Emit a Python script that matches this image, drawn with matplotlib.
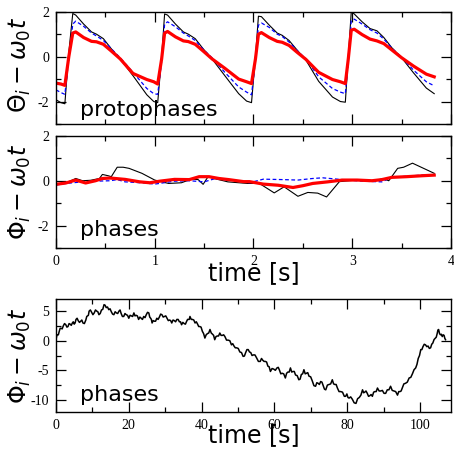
"""
Protophases vs phases: three panels (short window of protophases, phases,
and long-time phase drift).
Saved as: out.png
"""
import numpy as np
import matplotlib
matplotlib.use("Agg")
import matplotlib.pyplot as plt
from matplotlib.ticker import MultipleLocator

plt.rcParams["mathtext.fontset"] = "dejavusans"
plt.rcParams["axes.unicode_minus"] = False

TICK_FONT = "Liberation Serif"
LABEL_FS = 17
XLABEL_FS = 17
TEXT_FS = 16

# ── Panel 1: protophases minus w0*t ─────────────────────────────────────────
t_proto = [0.00, 0.05, 0.09, 0.13, 0.17, 0.20, 0.28, 0.36, 0.41, 0.48, 0.56, 0.65, 0.78, 0.92, 0.99, 1.03,
           1.07, 1.10, 1.13, 1.21, 1.29, 1.34, 1.41, 1.49, 1.58, 1.71, 1.85, 1.93, 1.98,
           2.02, 2.05, 2.08, 2.16, 2.24, 2.29, 2.36, 2.44, 2.53, 2.66, 2.80, 2.88, 2.93,
           2.96, 2.99, 3.02, 3.10, 3.18, 3.25, 3.32, 3.40, 3.50, 3.62, 3.75, 3.83]
proto_black = [-1.92, -2.05, -2.10, 0.20, 1.92, 1.85, 1.45, 1.10, 1.00, 0.80, 0.35, -0.10, -0.85, -1.70, -2.00, -2.05,
               0.00, 1.90, 1.85, 1.45, 1.10, 1.00, 0.80, 0.35, -0.10, -0.85, -1.65, -1.98, -2.05,
               0.00, 1.80, 1.78, 1.40, 1.05, 0.95, 0.72, 0.30, -0.15, -1.10, -1.80, -2.00, -2.03,
               0.00, 2.00, 1.90, 1.55, 1.25, 1.15, 0.85, 0.40, -0.05, -0.72, -1.40, -1.65]
proto_blue = [-1.48, -1.60, -1.68, -0.10, 1.45, 1.58, 1.35, 1.05, 0.92, 0.72, 0.35, -0.05, -0.70, -1.42, -1.65, -1.68,
              -0.20, 1.45, 1.55, 1.33, 1.05, 0.92, 0.72, 0.33, -0.05, -0.70, -1.35, -1.58, -1.70,
              -0.20, 1.40, 1.50, 1.30, 1.00, 0.90, 0.65, 0.28, -0.10, -0.90, -1.42, -1.58, -1.65,
              -0.20, 1.60, 1.67, 1.45, 1.20, 1.05, 0.78, 0.38, -0.03, -0.60, -1.12, -1.30]
proto_red = [-1.18, -1.22, -1.28, 0.00, 1.05, 1.10, 0.85, 0.68, 0.66, 0.55, 0.25, -0.10, -0.75, -1.02, -1.12, -1.22,
             -0.10, 1.05, 1.12, 0.88, 0.70, 0.67, 0.55, 0.25, -0.10, -0.52, -1.00, -1.12, -1.20,
             -0.10, 1.00, 1.07, 0.85, 0.68, 0.64, 0.50, 0.20, -0.12, -0.70, -1.02, -1.12, -1.20,
             -0.10, 1.18, 1.22, 0.98, 0.78, 0.70, 0.58, 0.30, -0.05, -0.42, -0.78, -0.90]

# ── Panel 2: phases minus w0*t (same window) ────────────────────────────────
t_ph_black = [0.00, 0.10, 0.20, 0.27, 0.35, 0.44, 0.47, 0.53, 0.56, 0.62, 0.68, 0.74, 0.87, 1.00, 1.14, 1.27,
              1.37, 1.44, 1.49, 1.54, 1.60, 1.74, 1.94, 2.06, 2.21, 2.31, 2.45, 2.55, 2.65, 2.74, 2.87,
              3.04, 3.24, 3.31, 3.37, 3.46, 3.52, 3.61, 3.83]
ph_black = [-0.16, -0.10, 0.10, 0.00, 0.02, 0.10, 0.28, 0.22, 0.18, 0.60, 0.60, 0.55, 0.33, 0.03, -0.12, -0.09,
            0.07, 0.05, -0.16, 0.18, 0.10, -0.05, -0.12, -0.12, -0.54, -0.27, -0.69, -0.52, -0.55, -0.72, -0.04,
            0.03, 0.00, 0.10, 0.00, 0.55, 0.60, 0.78, 0.33]
t_ph_blue = [0.00, 0.10, 0.27, 0.40, 0.55, 0.62, 0.70, 0.90, 1.00, 1.20, 1.35, 1.50, 1.60, 1.80, 1.96,
             2.10, 2.30, 2.45, 2.60, 2.70, 2.90, 3.10, 3.30, 3.40, 3.55, 3.70, 3.83]
ph_blue = [-0.19, -0.12, -0.05, -0.02, 0.00, 0.05, -0.05, -0.10, -0.15, -0.02, 0.00, -0.05, 0.08, 0.02, -0.09,
           0.07, 0.05, 0.03, 0.10, 0.13, 0.05, -0.02, -0.05, 0.15, 0.20, 0.25, 0.28]
t_ph_red = [0.00, 0.10, 0.20, 0.30, 0.40, 0.47, 0.55, 0.70, 0.85, 0.95, 1.05, 1.20, 1.35, 1.45, 1.55, 1.65,
            1.75, 1.90, 1.96, 2.10, 2.25, 2.40, 2.50, 2.60, 2.75, 2.90, 3.05, 3.20, 3.30, 3.40, 3.55, 3.70, 3.83]
ph_red = [-0.16, -0.10, 0.03, -0.10, 0.00, 0.10, 0.12, 0.06, -0.05, -0.09, -0.02, 0.06, 0.05, 0.18, 0.18, 0.10,
          0.05, -0.04, -0.04, -0.15, -0.20, -0.30, -0.22, -0.12, -0.05, 0.03, 0.03, 0.00, 0.05, 0.15, 0.18, 0.22, 0.25]

# ── Panel 3: long recording of the phase drift ──────────────────────────────
t_long = [0, 0.2, 0.4, 0.65, 0.9, 1.15, 1.4, 1.7, 2.0, 2.35, 2.7, 3.0, 3.3, 3.6, 3.9, 4.2, 4.5, 4.75,
          5.0, 5.25, 5.5, 5.8, 6.1, 6.45, 6.8, 7.1, 7.4, 7.8, 8.2, 8.45, 8.7, 8.9, 9.1, 9.45, 9.8, 10.15,
          10.5, 10.85, 11.2, 11.5, 11.8, 12.15, 12.5, 12.85, 13.2, 13.5, 13.8, 14.15, 14.5, 14.85, 15.2, 15.55,
          15.9, 16.25, 16.6, 16.95, 17.3, 17.6, 17.9, 18.25, 18.6, 18.95, 19.3, 19.65, 20.0, 20.35, 20.7, 21.05,
          21.4, 21.7, 22.0, 22.35, 22.7, 23.05, 23.4, 23.75, 24.1, 24.45, 24.8, 25.15, 25.5, 25.75, 26.0, 26.2,
          26.4, 26.7, 27.0, 27.35, 27.7, 28.05, 28.4, 28.75, 29.1, 29.45, 29.8, 30.15, 30.5, 30.85, 31.2, 31.5,
          31.8, 32.15, 32.5, 32.85, 33.2, 33.55, 33.9, 34.2, 34.5, 34.85, 35.2, 35.55, 35.9, 36.15, 36.4, 36.6,
          36.8, 37.15, 37.5, 37.85, 38.2, 38.55, 38.9, 39.2, 39.5, 39.85, 40.2, 40.55, 40.9, 41.25, 41.6, 41.95,
          42.3, 42.65, 43.0, 43.3, 43.6, 43.95, 44.3, 44.65, 45.0, 45.35, 45.7, 46.05, 46.4, 46.85, 47.3, 47.75,
          48.2, 48.55, 48.9, 49.25, 49.6, 50.05, 50.5, 50.95, 51.4, 51.75, 52.1, 52.45, 52.8, 53.15, 53.5, 53.85,
          54.2, 54.65, 55.1, 55.6, 56.1, 56.45, 56.8, 57.15, 57.5, 57.85, 58.2, 58.55, 58.9, 59.35, 59.8, 60.25,
          60.7, 61.05, 61.4, 61.75, 62.1, 62.55, 63.0, 63.35, 63.7, 64.05, 64.4, 64.75, 65.1, 65.45, 65.8, 66.25,
          66.7, 67.05, 67.4, 67.75, 68.1, 68.45, 68.8, 69.15, 69.5, 69.95, 70.4, 70.85, 71.3, 71.65, 72.0, 72.35,
          72.7, 73.05, 73.4, 73.75, 74.1, 74.55, 75.0, 75.45, 75.9, 76.25, 76.6, 76.95, 77.3, 77.75, 78.2, 78.7,
          79.2, 79.55, 79.9, 80.2, 80.5, 80.95, 81.4, 81.9, 82.4, 82.85, 83.3, 83.75, 84.2, 84.5, 84.8, 85.15,
          85.5, 85.85, 86.2, 86.55, 86.9, 87.25, 87.6, 87.95, 88.3, 88.75, 89.2, 89.65, 90.1, 90.55, 91.0, 91.45,
          91.9, 92.35, 92.8, 93.3, 93.8, 94.15, 94.5, 94.8, 95.1, 95.55, 96.0, 96.5, 97.0, 97.45, 97.9, 98.35,
          98.8, 99.15, 99.5, 99.85, 100.2, 100.5, 100.8, 101.15, 101.5, 101.85, 102.2, 102.55, 102.9, 103.2,
          103.5, 103.85, 104.2, 104.45, 104.7, 104.9, 105.1, 105.35, 105.6, 105.85, 106.1, 106.35, 106.6, 106.8,
          107.0]
phase_long = [0.17, 0.8, 1.0, 1.0, 1.6, 2.1, 2.1, 2.0, 2.5, 2.9, 2.7, 2.3, 2.4, 2.9, 2.8, 2.6, 3.0, 3.2,
              2.8, 3.0, 3.6, 3.8, 3.4, 3.1, 3.3, 3.5, 3.0, 2.9, 3.5, 4.1, 4.2, 4.3, 5.0, 5.2, 4.8, 4.4,
              4.7, 5.2, 5.0, 4.9, 4.4, 4.6, 5.2, 5.3, 6.1, 6.0, 5.6, 5.7, 5.25, 5.4, 4.9, 4.5,
              4.4, 4.9, 4.7, 4.6, 5.0, 5.2, 4.6, 4.1, 4.1, 4.6, 4.4, 4.3, 3.8, 4.3, 4.2, 4.1,
              4.7, 4.2, 4.3, 4.2, 3.6, 4.0, 3.8, 3.6, 4.1, 3.9, 4.4, 4.8, 4.7, 4.0, 3.8, 3.6,
              3.0, 3.4, 3.3, 3.3, 3.8, 3.6, 4.0, 4.5, 4.4, 4.0, 4.1, 4.2, 3.8, 3.4, 3.5, 3.4,
              3.0, 3.5, 3.4, 3.2, 3.6, 3.6, 3.2, 3.2, 2.7, 3.1, 2.9, 2.8, 3.3, 3.6, 3.6, 3.6,
              4.1, 3.6, 3.6, 3.5, 3.0, 3.2, 2.8, 2.4, 2.4, 2.3, 1.6, 1.2, 0.45, 1.0, 1.2, 1.3,
              1.9, 1.3, 1.1, 0.9, 0.17, 0.7, 0.8, 0.8, 1.3, 0.9, 0.9, 1.0, 0.7, 0.1, 0.1, 0.0,
              -0.7, -0.5, -0.9, -1.2, -1.2, -1.3, -1.9, -2.0, -2.65, -2.6, -2.0, -1.5, -1.5, -1.9, -2.0, -2.5,
              -2.4, -2.4, -2.9, -3.5, -3.5, -3.0, -3.3, -3.5, -3.5, -3.6, -4.3, -4.4, -5.2, -4.7, -4.8, -5.0,
              -4.6, -4.5, -5.0, -5.6, -5.5, -5.6, -6.3, -5.5, -5.3, -5.3, -4.6, -5.3, -5.2, -5.2, -5.8, -5.9,
              -6.6, -6.5, -5.7, -5.6, -4.9, -5.6, -5.5, -5.4, -6.0, -6.1, -6.8, -7.6, -7.7, -7.1, -7.2, -7.4,
              -6.9, -7.0, -7.6, -8.2, -8.3, -7.5, -7.4, -7.3, -6.6, -7.3, -7.4, -7.4, -8.0, -8.6, -8.6, -8.7,
              -9.4, -9.4, -9.0, -9.6, -9.7, -9.5, -9.9, -10.5, -10.6, -9.8, -9.6, -9.2, -8.3, -8.8, -8.7, -8.5,
              -8.9, -9.4, -9.3, -9.1, -9.4, -8.7, -8.6, -8.6, -8.0, -8.5, -8.5, -8.4, -8.9, -8.9, -8.3, -8.3,
              -7.7, -8.4, -8.5, -8.6, -9.2, -8.6, -8.6, -8.5, -8.0, -7.3, -7.2, -7.0, -6.3, -6.2, -5.6, -4.9,
              -4.6, -4.0, -3.0, -2.5, -1.5, -1.5, -1.0, -0.6, -0.7, -1.0, -0.9, -1.3, -1.2, -0.6,
              -0.4, 0.2, 0.45, 0.6, 1.2, 1.8, 1.9, 1.2, 1.0, 1.1, 0.7, 1.0, 0.9, 0.4,
              0.17]

# ── Figure layout (pixel-matched, 454 x 454) ────────────────────────────────
fig = plt.figure(figsize=(4.54, 4.54), dpi=100, facecolor="white")
L, W = 0.1233, 0.8701
ax1 = fig.add_axes([L, 0.7269, W, 0.2473])
ax2 = fig.add_axes([L, 0.4531, W, 0.2480])
ax3 = fig.add_axes([L, 0.0932, W, 0.2475])


def style(ax, xmaj, xmin, ymaj, ymin):
    ax.xaxis.set_major_locator(MultipleLocator(xmaj))
    ax.xaxis.set_minor_locator(MultipleLocator(xmin))
    ax.yaxis.set_major_locator(MultipleLocator(ymaj))
    ax.yaxis.set_minor_locator(MultipleLocator(ymin))
    ax.tick_params(which="both", direction="in", top=True, right=True, width=0.9)
    ax.tick_params(which="major", length=7, pad=5)
    ax.tick_params(which="minor", length=3.5)
    for lbl in ax.get_xticklabels() + ax.get_yticklabels():
        lbl.set_fontfamily(TICK_FONT)
        lbl.set_fontsize(10)
    for s in ax.spines.values():
        s.set_linewidth(1.0)


# Panel 1
ax1.plot(t_proto, proto_black, color="black", lw=0.8)
ax1.plot(t_proto, proto_blue, color="#0000ff", lw=0.9, ls=(0, (3, 2)))
ax1.plot(t_proto, proto_red, color="#ff0000", lw=2.3)
ax1.set_xlim(0, 4)
ax1.set_ylim(-3, 2)
style(ax1, 1, 0.5, 2, 1)
ax1.set_xticklabels([])
ax1.set_ylabel(r"$\Theta_i - \omega_0 t$", fontsize=LABEL_FS)
ax1.yaxis.set_label_coords(-0.057, 0.53)
ax1.text(0.06, 0.035, "protophases", transform=ax1.transAxes, fontsize=TEXT_FS,
         ha="left", va="bottom")

# Panel 2
ax2.plot(t_ph_black, ph_black, color="black", lw=0.8)
ax2.plot(t_ph_blue, ph_blue, color="#0000ff", lw=0.9, ls=(0, (3, 2)))
ax2.plot(t_ph_red, ph_red, color="#ff0000", lw=2.3)
ax2.set_xlim(0, 4)
ax2.set_ylim(-3, 2)
style(ax2, 1, 0.5, 2, 1)
ax2.set_ylabel(r"$\Phi_i - \omega_0 t$", fontsize=LABEL_FS)
ax2.yaxis.set_label_coords(-0.057, 0.5)
ax2.set_xlabel("time [s]", fontsize=XLABEL_FS)
ax2.xaxis.set_label_coords(0.5, -0.115)
ax2.text(0.06, 0.07, "phases", transform=ax2.transAxes, fontsize=TEXT_FS,
         ha="left", va="bottom")

# Panel 3
ax3.plot(t_long, phase_long, color="black", lw=1.1)
ax3.set_xlim(0, 108.5)
ax3.set_ylim(-12, 7)
style(ax3, 20, 10, 5, 2.5)
ax3.set_ylabel(r"$\Phi_i - \omega_0 t$", fontsize=LABEL_FS)
ax3.yaxis.set_label_coords(-0.057, 0.5)
ax3.set_xlabel("time [s]", fontsize=XLABEL_FS)
ax3.xaxis.set_label_coords(0.5, -0.10)
ax3.text(0.06, 0.06, "phases", transform=ax3.transAxes, fontsize=TEXT_FS,
         ha="left", va="bottom")

fig.savefig("out.png", dpi=100, facecolor="white")
plt.close(fig)
